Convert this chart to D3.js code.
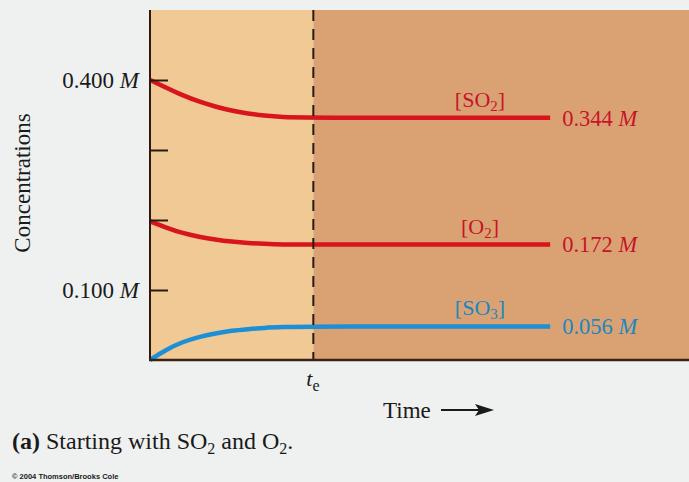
<!DOCTYPE html>
<html><head><meta charset="utf-8">
<script src="https://cdn.jsdelivr.net/npm/d3@7"></script>
<style>
html,body{margin:0;padding:0;background:#eff0f0;}
svg{display:block;font-family:"Liberation Serif","Times New Roman",serif;}
</style></head><body>
<svg id="c" width="689" height="482"></svg>
<script>
// ---- data ----
const times = [0, 0.5, 1, 1.5, 2, 2.5, 3, 3.5, 4, 5, 12.25];
const so2 = [0.400, 0.389, 0.378, 0.369, 0.362, 0.356, 0.352, 0.349, 0.347, 0.346, 0.346];
const o2  = [0.198, 0.189, 0.181, 0.176, 0.172, 0.169, 0.167, 0.166, 0.165, 0.165, 0.165];
const so3 = [0.000, 0.015, 0.026, 0.033, 0.038, 0.042, 0.044, 0.046, 0.047, 0.048, 0.048];
const seriesNames = ["SO2", "O2", "SO3"];
const eqLabels = ["0.344", "0.172", "0.056"];
const yTicks = [0.1, 0.2, 0.3, 0.4];
const yTickLabels = {0.1: "0.100", 0.4: "0.400"};
const tEq = 5;
const tMax = 16.5;

const svg = d3.select("#c");
const x = d3.scaleLinear().domain([0, tMax]).range([150, 689]);
const y = d3.scaleLinear().domain([0, 0.5]).range([360, 10]);
const ink = "#1a1a1a";

// backgrounds
svg.append("rect").attr("x", x(0)).attr("y", y(0.5)).attr("width", x(tEq) - x(0)).attr("height", y(0) - y(0.5)).attr("fill", "#f1c995");
svg.append("rect").attr("x", x(tEq)).attr("y", y(0.5)).attr("width", x(tMax) - x(tEq)).attr("height", y(0) - y(0.5)).attr("fill", "#daa273");

// curves
const colors = ["#d8141c", "#d8141c", "#1d8fd6"];
const textColors = ["#c8142a", "#c8142a", "#1c86c2"];
const data = [so2, o2, so3];
const line = d3.line().x((d, i) => x(times[i])).y(d => y(d)).curve(d3.curveBasis);
data.forEach((s, k) => {
  svg.append("path").attr("d", line(s)).attr("fill", "none").attr("stroke", colors[k]).attr("stroke-width", 4.5);
});

// dashed equilibrium line
svg.append("line").attr("x1", x(tEq)).attr("x2", x(tEq)).attr("y1", y(0.5)).attr("y2", y(0))
  .attr("stroke", "#2a1a12").attr("stroke-width", 2).attr("stroke-dasharray", "11,8");

// y axis
const yAxis = d3.axisRight(y).tickValues(yTicks).tickSize(18).tickFormat("");
const gy = svg.append("g").attr("transform", `translate(${x(0)},0)`).call(yAxis);
gy.select(".domain").remove();
gy.selectAll(".tick line").attr("stroke", "#2a1a12").attr("stroke-width", 2);
svg.append("line").attr("x1", x(0)).attr("x2", x(0)).attr("y1", y(0.5)).attr("y2", y(0) + 1)
  .attr("stroke", "#2a1a12").attr("stroke-width", 2);
svg.append("line").attr("x1", x(0) - 1).attr("x2", x(tMax)).attr("y1", y(0)).attr("y2", y(0))
  .attr("stroke", "#3a2218").attr("stroke-width", 2.5);

// y tick labels
yTicks.filter(v => yTickLabels[v]).forEach(v => {
  const t = svg.append("text").attr("x", 139).attr("y", y(v)).attr("dy", "0.35em")
    .attr("text-anchor", "end").attr("font-size", 23).attr("fill", ink);
  t.append("tspan").text(yTickLabels[v] + " ");
  t.append("tspan").attr("font-style", "italic").text("M");
});

// y axis title
svg.append("text").attr("transform", "translate(30,183) rotate(-90)")
  .attr("text-anchor", "middle").attr("font-size", 23).attr("fill", ink).text("Concentrations");

// te label
const te = svg.append("text").attr("x", x(tEq) - 7).attr("y", 386).attr("font-size", 22).attr("fill", ink);
te.append("tspan").attr("font-style", "italic").text("t");
te.append("tspan").attr("font-size", 16).attr("dy", 5).text("e");

// Time label + arrow
svg.append("text").attr("x", 383).attr("y", 418).attr("font-size", 23).attr("fill", ink).text("Time");
svg.append("line").attr("x1", 441).attr("x2", 480).attr("y1", 410).attr("y2", 410).attr("stroke", ink).attr("stroke-width", 2.2);
svg.append("path").attr("d", "M494,410 L475,404 L479,410 L475,416 Z").attr("fill", ink);

// series labels
data.forEach((s, k) => {
  const last = s[s.length - 1];
  const tEnd = times[times.length - 1];
  const nm = svg.append("text").attr("x", 480).attr("y", y(last) - 11).attr("text-anchor", "middle")
    .attr("font-size", 22).attr("fill", textColors[k]);
  const base = seriesNames[k].replace(/\d/, "");
  const sub = seriesNames[k].match(/\d/)[0];
  nm.append("tspan").text("[" + base);
  nm.append("tspan").attr("font-size", 15).attr("dy", 4).text(sub);
  nm.append("tspan").attr("dy", -4).text("]");
  const vl = svg.append("text").attr("x", x(tEnd) + 12).attr("y", y(last)).attr("dy", "0.35em")
    .attr("font-size", 22.5).attr("fill", textColors[k]);
  vl.append("tspan").text(eqLabels[k] + " ");
  vl.append("tspan").attr("font-style", "italic").text("M");
});

// caption
const cap = svg.append("text").attr("x", 12).attr("y", 449).attr("font-size", 24).attr("fill", ink);
cap.append("tspan").attr("font-weight", "bold").text("(a)");
cap.append("tspan").text("  Starting with SO");
cap.append("tspan").attr("font-size", 16).attr("dy", 5).text("2");
cap.append("tspan").attr("dy", -5).text(" and O");
cap.append("tspan").attr("font-size", 16).attr("dy", 5).text("2");
cap.append("tspan").attr("dy", -5).text(".");

svg.append("text").attr("x", 12).attr("y", 479).attr("font-family", "Liberation Sans, Arial, sans-serif")
  .attr("font-size", 7.5).attr("font-weight", "bold").attr("fill", ink).text("© 2004 Thomson/Brooks Cole");
</script>
</body></html>
